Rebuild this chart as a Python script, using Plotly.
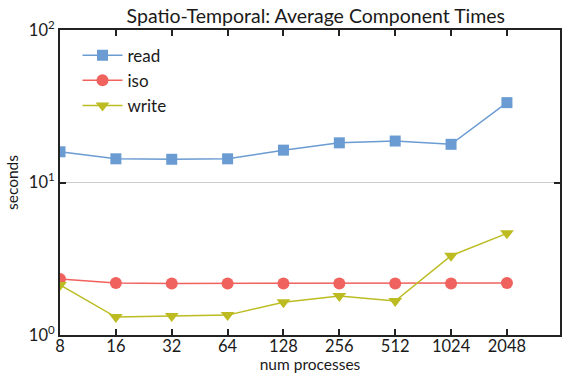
import plotly.graph_objects as go

categories = ["8", "16", "32", "64", "128", "256", "512", "1024", "2048"]
read_vals = [15.9, 14.3, 14.2, 14.3, 16.3, 18.2, 18.7, 17.8, 33.4]
iso_vals = [2.33, 2.19, 2.18, 2.18, 2.18, 2.18, 2.18, 2.18, 2.19]
write_vals = [2.13, 1.31, 1.33, 1.35, 1.64, 1.80, 1.67, 3.31, 4.64]
y_tickvals = [1, 10, 100]
y_ticktext = ["10<sup>0</sup>", "10<sup>1</sup>", "10<sup>2</sup>"]

xi = list(range(len(categories)))
FONT = "Lato"
TXT = "#1a1a1a"

fig = go.Figure()
fig.add_trace(go.Scatter(x=xi, y=read_vals, name="read", mode="lines+markers",
                         line=dict(color="#6a9bd2", width=1.5),
                         marker=dict(symbol="square", size=11, color="#6a9bd2")))
fig.add_trace(go.Scatter(x=xi, y=iso_vals, name="iso", mode="lines+markers",
                         line=dict(color="#f0625e", width=1.5),
                         marker=dict(symbol="circle", size=12, color="#f0625e")))
fig.add_trace(go.Scatter(x=xi, y=write_vals, name="write", mode="lines+markers",
                         line=dict(color="#bcbc22", width=1.5),
                         marker=dict(symbol="triangle-down", size=12, color="#bcbc22")))

fig.update_layout(
    width=562, height=373,
    margin=dict(l=60, r=0, t=30, b=38),
    paper_bgcolor="white", plot_bgcolor="white",
    font=dict(family=FONT, size=16, color=TXT),
    title=dict(text="Spatio-Temporal: Average Component Times", x=0.562, xanchor="center",
               y=0.975, yanchor="top", font=dict(size=19.5, family=FONT, color=TXT)),
    showlegend=True,
    legend=dict(x=0.035, y=0.975, xanchor="left", yanchor="top", bgcolor="rgba(0,0,0,0)",
                font=dict(size=17, family=FONT, color=TXT), itemwidth=40, tracegroupgap=2),
    xaxis=dict(range=[0, 8.95], tickmode="array", tickvals=xi, ticktext=categories,
               showline=True, linecolor="#222", linewidth=2, mirror="ticks",
               ticks="inside", ticklen=6, tickcolor="#222", tickwidth=1.5,
               showgrid=False, zeroline=False, ticklabelstandoff=-5,
               title=dict(text="num processes", standoff=2, font=dict(size=15.5)),
               tickfont=dict(size=16.5)),
    yaxis=dict(type="log", range=[0, 2], tickmode="array", tickvals=y_tickvals,
               ticktext=y_ticktext,
               showline=True, linecolor="#222", linewidth=2, mirror="ticks",
               ticks="inside", ticklen=6, tickcolor="#222", tickwidth=1.5,
               showgrid=True, gridcolor="#cccccc", gridwidth=1, zeroline=False,
               title=dict(text="seconds", standoff=6, font=dict(size=15.5)),
               tickfont=dict(size=16.5)),
)

fig.write_html("out.html")
